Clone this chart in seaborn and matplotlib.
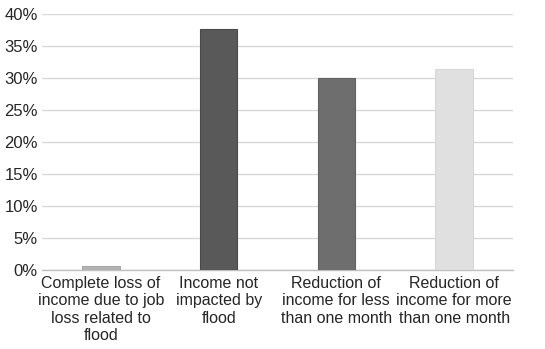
import matplotlib
matplotlib.use("Agg")
import matplotlib.pyplot as plt
import seaborn as sns
import pandas as pd
from matplotlib.ticker import FuncFormatter

categories = [
    "Complete loss of\nincome due to job\nloss related to\nflood",
    "Income not\nimpacted by\nflood",
    "Reduction of\nincome for less\nthan one month",
    "Reduction of\nincome for more\nthan one month",
]
shares = [0.6, 37.6, 30.0, 31.4]
bar_colors = ["#b3b3b3", "#595959", "#6e6e6e", "#e0e0e0"]
edge_colors = ["#a8a8a8", "#4a4a4a", "#626262", "#d8d8d8"]
y_ticks = [0, 5, 10, 15, 20, 25, 30, 35, 40]

sns.set_theme(style="white")
plt.rcParams["font.family"] = ["Liberation Sans", "DejaVu Sans"]

df = pd.DataFrame({"category": categories, "share": shares})

fig = plt.figure(figsize=(5.45, 3.49), dpi=100)
ax = fig.add_axes([42 / 545, 1 - 270 / 349, (513 - 42) / 545, (270 - 14) / 349])

sns.barplot(data=df, x="category", y="share", hue="category",
            palette=bar_colors, width=0.32, legend=False, ax=ax,
            linewidth=0.8, zorder=3)
for patch, ec in zip(ax.patches, edge_colors):
    patch.set_edgecolor(ec)

ax.set_ylim(0, 40)
ax.set_xlim(-0.5, 3.5)
ax.set_yticks(y_ticks)
ax.yaxis.set_major_formatter(FuncFormatter(lambda v, _: f"{v:.0f}%"))
ax.grid(axis="y", color="#d9d9d9", linewidth=1, zorder=0)
ax.set_xlabel("")
ax.set_ylabel("")
for side in ["top", "right", "left"]:
    ax.spines[side].set_visible(False)
ax.spines["bottom"].set_color("#bfbfbf")
ax.spines["bottom"].set_linewidth(1)
ax.tick_params(axis="x", length=0, labelsize=11.5, colors="#262626", pad=4)
ax.tick_params(axis="y", length=0, labelsize=12, colors="#262626", pad=3)
for lbl in ax.get_xticklabels():
    lbl.set_linespacing(1.22)
    lbl.set_verticalalignment("top")

fig.savefig("out.png", dpi=100)
